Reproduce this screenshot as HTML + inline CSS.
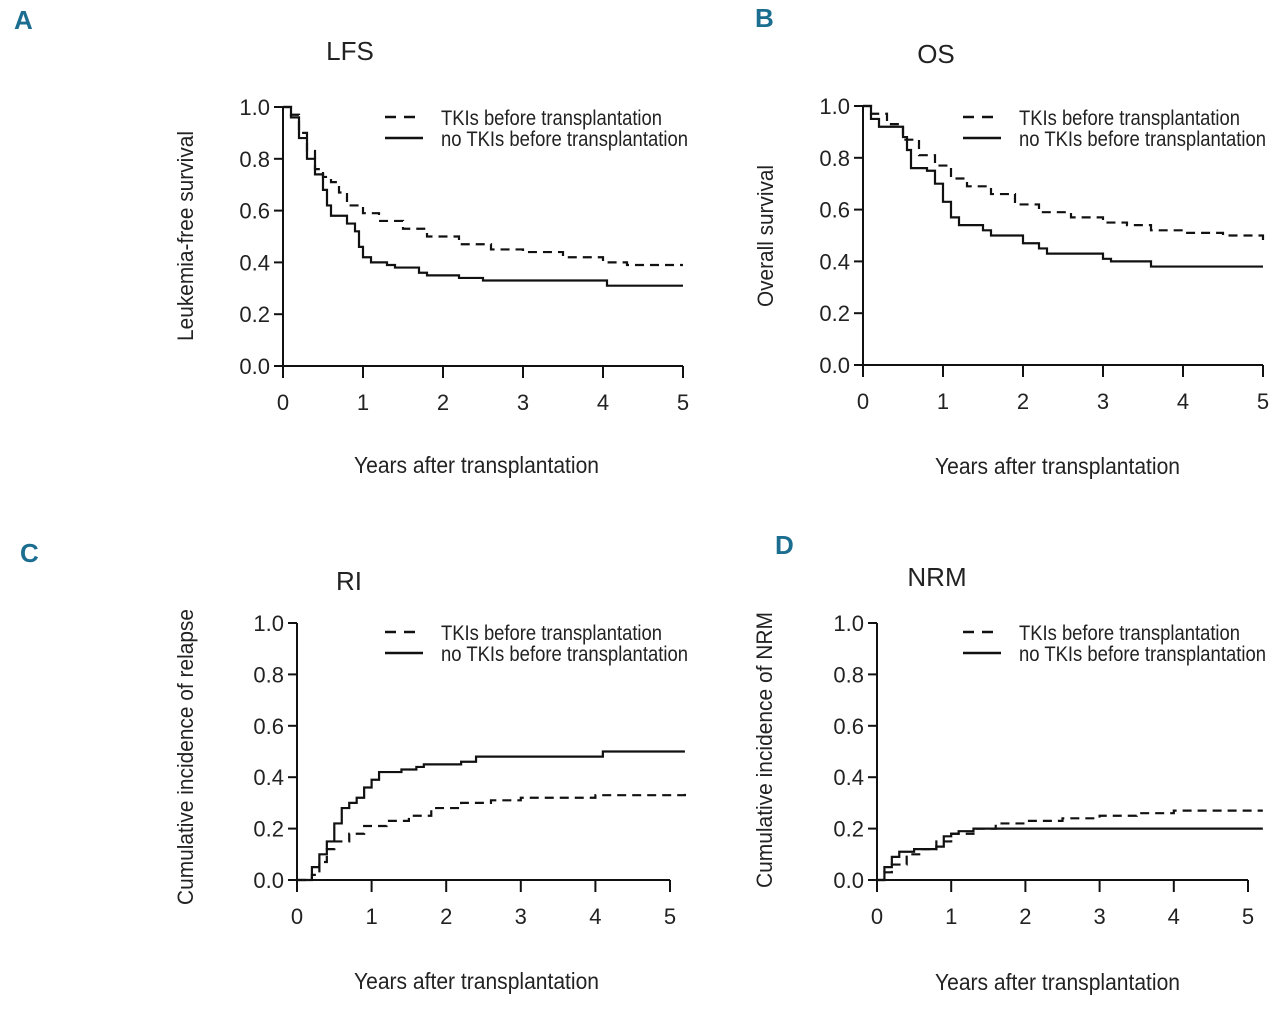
<!DOCTYPE html>
<html><head><meta charset="utf-8"><style>
html,body{margin:0;padding:0;background:#fff;}
svg{display:block;font-family:"Liberation Sans Narrow","Liberation Sans",sans-serif;}
</style></head><body>
<svg id="fig" width="1280" height="1012" viewBox="0 0 1280 1012"></svg>
<script>
const NS="http://www.w3.org/2000/svg";
const svg=document.getElementById('fig');
// ---- data ----
const xTicks=[0,1,2,3,4,5];
const yTicks=[0,0.2,0.4,0.6,0.8,1.0];
const yTickLabels=["0.0","0.2","0.4","0.6","0.8","1.0"];
const lfsTkiT=[0,0.1,0.2,0.3,0.4,0.5,0.6,0.7,0.8,1.0,1.2,1.5,1.8,2.2,2.6,3.0,3.5,4.0,4.3,5.0];
const lfsTkiS=[1,0.97,0.9,0.83,0.76,0.73,0.71,0.67,0.62,0.59,0.56,0.53,0.50,0.47,0.45,0.44,0.42,0.40,0.39,0.39];
const lfsNoT=[0,0.1,0.2,0.3,0.4,0.5,0.55,0.6,0.8,0.9,0.95,1.0,1.1,1.3,1.4,1.7,1.8,2.2,2.5,4.0,4.05,5.0];
const lfsNoS=[1,0.96,0.88,0.8,0.74,0.68,0.62,0.58,0.55,0.52,0.46,0.42,0.40,0.39,0.38,0.36,0.35,0.34,0.33,0.33,0.31,0.31];
const osTkiT=[0,0.1,0.3,0.5,0.7,0.9,1.1,1.3,1.6,1.9,2.2,2.6,3.0,3.3,3.6,4.0,4.5,4.9,5.0];
const osTkiS=[1,0.97,0.93,0.87,0.81,0.77,0.72,0.69,0.66,0.62,0.59,0.57,0.55,0.54,0.52,0.51,0.50,0.50,0.46];
const osNoT=[0,0.1,0.2,0.5,0.55,0.6,0.8,0.9,1.0,1.1,1.2,1.5,1.6,2.0,2.2,2.3,3.0,3.1,3.6,5.0];
const osNoS=[1,0.95,0.92,0.88,0.83,0.76,0.75,0.70,0.63,0.57,0.54,0.52,0.50,0.47,0.45,0.43,0.41,0.40,0.38,0.38];
const riTkiT=[0,0.2,0.3,0.4,0.5,0.7,0.9,1.2,1.5,1.8,2.2,2.6,3.0,4.0,5.2];
const riTkiS=[0,0.02,0.07,0.12,0.15,0.18,0.21,0.23,0.25,0.28,0.30,0.31,0.32,0.33,0.34];
const riNoT=[0,0.1,0.2,0.3,0.4,0.5,0.6,0.7,0.8,0.9,1.0,1.1,1.3,1.4,1.6,1.7,2.2,2.4,4.0,4.1,5.2];
const riNoS=[0,0,0.05,0.1,0.15,0.22,0.28,0.30,0.32,0.36,0.39,0.42,0.42,0.43,0.44,0.45,0.46,0.48,0.48,0.50,0.50];
const nrmTkiT=[0,0.1,0.2,0.4,0.6,0.8,1.0,1.3,1.6,2.0,2.5,3.0,3.5,4.0,5.2];
const nrmTkiS=[0,0.03,0.06,0.10,0.12,0.15,0.18,0.20,0.22,0.23,0.24,0.25,0.26,0.27,0.27];
const nrmNoT=[0,0.1,0.2,0.3,0.5,0.8,0.9,1.0,1.1,1.3,5.2];
const nrmNoS=[0,0.05,0.09,0.11,0.12,0.13,0.17,0.18,0.19,0.20,0.20];

function el(tag,attrs,parent){const e=document.createElementNS(NS,tag);for(const k in attrs)e.setAttribute(k,attrs[k]);(parent||svg).appendChild(e);return e;}
function txt(s,attrs,parent){const e=el('text',attrs,parent);e.textContent=s;return e;}

function panel(cfg){
  const g=el('g',{});
  
  
  const X=v=>cfg.x0+v*(cfg.x5-cfg.x0)/5;
  const Y=v=>cfg.y0-v*(cfg.y0-cfg.y1);
  const lt=txt(cfg.letter,{x:cfg.lx,y:cfg.ly,'font-size':26,'font-weight':'bold',fill:'#1c6e91'},g);
  
  
  const tt=txt(cfg.title,{x:cfg.tx,y:cfg.ty,'font-size':26,'text-anchor':'middle',fill:'#222'},g);
  
  
  const ax=el('path',{d:`M${cfg.x0} ${Y(1)} V${cfg.y0} H${X(5)}`,stroke:'#111','stroke-width':2,fill:'none'},g);
  
  
  yTicks.forEach((v,i)=>{
    el('line',{x1:cfg.x0-9,x2:cfg.x0,y1:Y(v),y2:Y(v),stroke:'#111','stroke-width':2},g);
    const t=txt(yTickLabels[i],{x:cfg.x0-13,y:Y(v)+8,'font-size':22,'text-anchor':'end',fill:'#222'},g);
    
    
  });
  xTicks.forEach(v=>{
    el('line',{x1:X(v),x2:X(v),y1:cfg.y0,y2:cfg.y0+12,stroke:'#111','stroke-width':2},g);
    const t=txt(String(v),{x:X(v),y:cfg.y0+44,'font-size':22,'text-anchor':'middle',fill:'#222'},g);
    
    
  });
  const xt=txt('Years after transplantation',{x:cfg.xtx,y:cfg.xty,'font-size':23,fill:'#222',textLength:245,lengthAdjust:'spacingAndGlyphs'},g);
  
  
  const yt=txt(cfg.ytitle,{x:0,y:0,'font-size':22,fill:'#222','text-anchor':'middle',textLength:cfg.ylen,lengthAdjust:'spacingAndGlyphs',transform:`translate(${cfg.ytx},${cfg.yty}) rotate(-90)`},g);
  
  
  function step(ts,ss,dash,nm){
    let d=`M${X(ts[0])} ${Y(ss[0])}`;
    for(let i=1;i<ts.length;i++){d+=` H${X(ts[i])} V${Y(ss[i])}`;}
    const p=el('path',{d,stroke:'#111','stroke-width':2.2,fill:'none'},g);
    if(dash)p.setAttribute('stroke-dasharray','9 6');
    
    
  }
  step(cfg.aT,cfg.aS,true,'tki-curve');
  step(cfg.bT,cfg.bS,false,'no-tki-curve');
  const lg=el('g',{},g);
  
  
  el('line',{x1:cfg.legx,x2:cfg.legx+38,y1:cfg.legy,y2:cfg.legy,stroke:'#111','stroke-width':2.5,'stroke-dasharray':'11 8'},lg);
  el('line',{x1:cfg.legx,x2:cfg.legx+38,y1:cfg.legy+21,y2:cfg.legy+21,stroke:'#111','stroke-width':2.5},lg);
  const l1=txt('TKIs before transplantation',{x:cfg.legx+56,y:cfg.legy+8,'font-size':21,fill:'#222',textLength:221,lengthAdjust:'spacingAndGlyphs'},lg);
  
  
  const l2=txt('no TKIs before transplantation',{x:cfg.legx+56,y:cfg.legy+29,'font-size':21,fill:'#222',textLength:247,lengthAdjust:'spacingAndGlyphs'},lg);
  
  
}
panel({name:'panel-a-lfs',letter:'A',lx:14,ly:29,title:'LFS',tx:350,ty:60,x0:283,x5:683,y0:366,y1:107,
  xtx:354,xty:473,ytitle:'Leukemia-free survival',ylen:210,ytx:193,yty:236,legx:385,legy:117,
  aT:lfsTkiT,aS:lfsTkiS,bT:lfsNoT,bS:lfsNoS});
panel({name:'panel-b-os',letter:'B',lx:755,ly:27,title:'OS',tx:936,ty:63,x0:863,x5:1263,y0:365,y1:106,
  xtx:935,xty:474,ytitle:'Overall survival',ylen:142,ytx:773,yty:236,legx:963,legy:117,
  aT:osTkiT,aS:osTkiS,bT:osNoT,bS:osNoS});
panel({name:'panel-c-ri',letter:'C',lx:20,ly:562,title:'RI',tx:349,ty:590,x0:297,x5:670,y0:880,y1:623,
  xtx:354,xty:989,ytitle:'Cumulative incidence of relapse',ylen:296,ytx:193,yty:757,legx:385,legy:632,
  aT:riTkiT,aS:riTkiS,bT:riNoT,bS:riNoS});
panel({name:'panel-d-nrm',letter:'D',lx:775,ly:554,title:'NRM',tx:937,ty:586,x0:877,x5:1248,y0:880,y1:623,
  xtx:935,xty:990,ytitle:'Cumulative incidence of NRM',ylen:276,ytx:772,yty:750,legx:963,legy:632,
  aT:nrmTkiT,aS:nrmTkiS,bT:nrmNoT,bS:nrmNoS});
</script>
</body></html>
